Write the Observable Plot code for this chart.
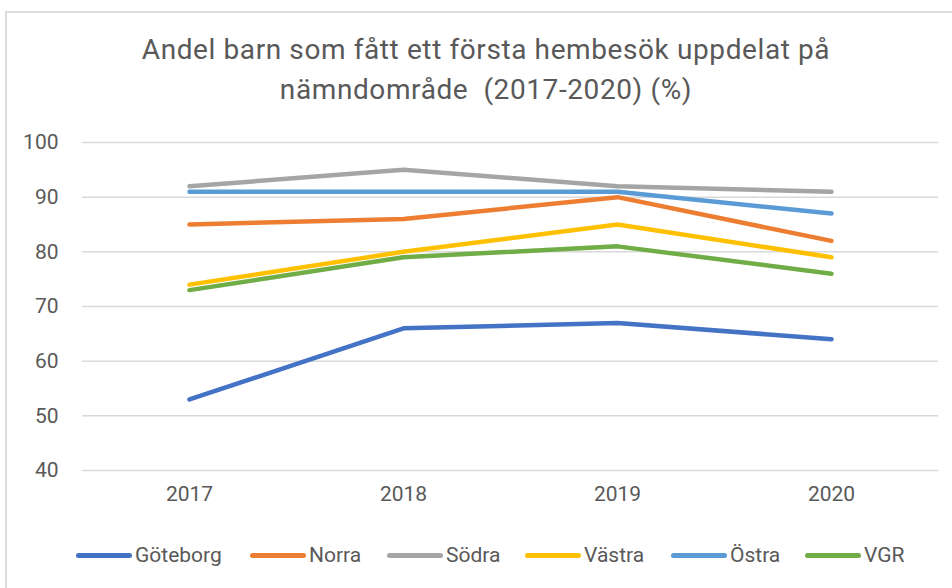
<!DOCTYPE html>
<html>
<head>
<meta charset="utf-8">
<script src="https://cdn.jsdelivr.net/npm/d3@7"></script>
<script src="https://cdn.jsdelivr.net/npm/@observablehq/plot@0.6"></script>
<style>
  html, body { margin: 0; padding: 0; background: #fff; }
  body { width: 952px; height: 588px; overflow: hidden; position: relative;
         font-family: Roboto, "Noto Sans", sans-serif; color: #595959; }
  #frame { position: absolute; left: 5px; top: 11px; width: 960px; height: 600px;
           border-left: 2px solid #dcdcdc; border-top: 2px solid #dcdcdc; box-sizing: border-box; }
  #title { position: absolute; left: 0; top: 30px; width: 972px; text-align: center;
           font-size: 28px; letter-spacing: 0.6px; line-height: 40px; color: #595959; }
  #chart { position: absolute; left: 0; top: 120px; }
  #legend { position: absolute; top: 540px; left: 0; width: 952px; height: 30px; }
  .item { position: absolute; top: 0; height: 30px; display: flex; align-items: center; font-size: 21px; color: #595959; }
  .sw { display: inline-block; width: 56px; height: 5px; border-radius: 3px; margin-right: 3px; }
</style>
</head>
<body>
<div id="frame"></div>
<div id="title">Andel barn som fått ett första hembesök uppdelat på<br>nämndområde&nbsp; (2017-2020) (%)</div>
<div id="chart"></div>
<div id="legend"></div>
<script>
const years = ["2017", "2018", "2019", "2020"];
const seriesNames = ["Göteborg", "Norra", "Södra", "Västra", "Östra", "VGR"];
const colors = ["#4472C4", "#ED7D31", "#A5A5A5", "#FFC000", "#5B9BD5", "#70AD47"];
const goteborg = [53, 66, 67, 64];
const norra = [85, 86, 90, 82];
const sodra = [92, 95, 92, 91];
const vastra = [74, 80, 85, 79];
const ostra = [91, 91, 91, 87];
const vgr = [73, 79, 81, 76];
const yTicks = [40, 50, 60, 70, 80, 90, 100];
const legendX = [76, 250, 387, 525, 671, 805];

const seriesValues = [goteborg, norra, sodra, vastra, ostra, vgr];
const data = [];
seriesNames.forEach((name, i) => {
  years.forEach((yr, j) => data.push({series: name, year: yr, value: seriesValues[i][j]}));
});

const font = getComputedStyle(document.body).fontFamily;

const chart = Plot.plot({
  width: 952,
  height: 390,
  marginTop: 22,
  marginBottom: 40,
  marginLeft: 82,
  marginRight: 14,
  style: {fontFamily: font, fontSize: "21px", color: "#595959", background: "transparent"},
  x: {type: "point", domain: years, padding: 0.5, label: null},
  y: {domain: [40, 100], label: null},
  color: {domain: seriesNames, range: colors},
  marks: [
    Plot.gridY(yTicks, {stroke: "#d9d9d9", strokeOpacity: 1, strokeWidth: 1.5}),
    Plot.axisY(yTicks, {tickSize: 0, tickPadding: 24, fill: "#595959", fontSize: 21, label: null}),
    Plot.axisX(years, {tickSize: 0, tickPadding: 16, fill: "#595959", fontSize: 21, label: null}),
    Plot.line(data, {x: "year", y: "value", z: "series", stroke: "series", strokeWidth: 4.5,
                     strokeLinecap: "round", strokeLinejoin: "round"})
  ]
});
document.getElementById("chart").appendChild(chart);

const legend = document.getElementById("legend");
seriesNames.forEach((name, i) => {
  const item = document.createElement("div");
  item.className = "item";
  item.style.left = legendX[i] + "px";
  const sw = document.createElement("span");
  sw.className = "sw";
  sw.style.background = colors[i];
  item.appendChild(sw);
  item.appendChild(document.createTextNode(name));
  legend.appendChild(item);
});
</script>
</body>
</html>
